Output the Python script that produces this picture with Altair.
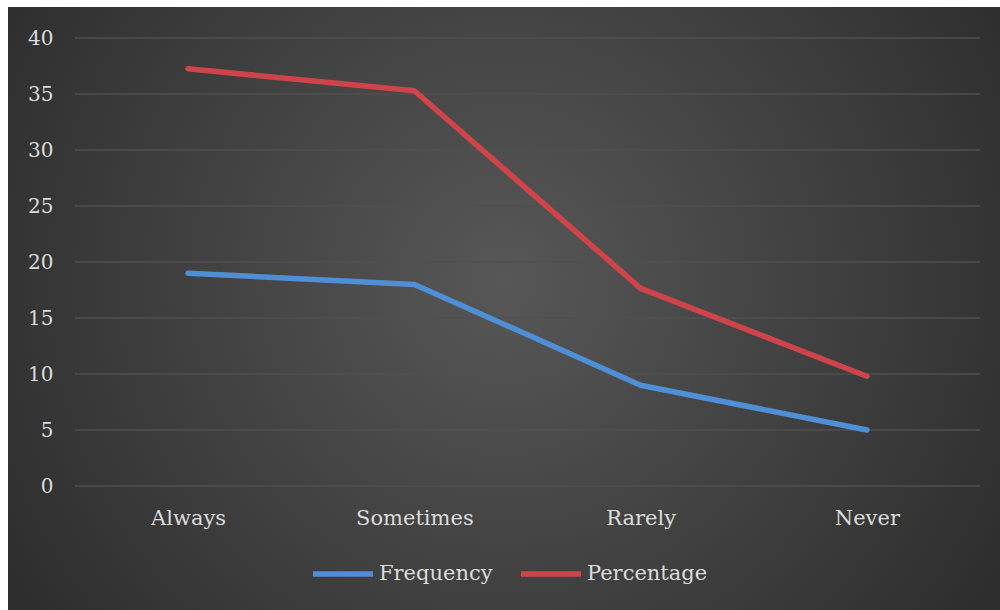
import altair as alt
import pandas as pd

# Survey responses per category
categories = ["Always", "Sometimes", "Rarely", "Never"]
frequency = [19, 18, 9, 5]
percentage = [37.25, 35.29, 17.65, 9.80]
series_names = ["Frequency", "Percentage"]
series_colors = ["#4f8fd6", "#cf444a"]
y_ticks = [0, 5, 10, 15, 20, 25, 30, 35, 40]

rows = []
for cat, f, p in zip(categories, frequency, percentage):
    rows.append({"category": cat, "series": "Frequency", "value": f})
    rows.append({"category": cat, "series": "Percentage", "value": p})
df = pd.DataFrame(rows)

FONT = "DejaVu Serif"
TEXT = "#dcdcdc"
W, H = 905, 448
PAD = {"left": 75, "top": 38, "right": 20, "bottom": 124}
y_scale = alt.Scale(domain=[0, 40], nice=False)
y_axis = alt.Axis(
    title=None, values=y_ticks, domain=False, ticks=False, grid=False, zindex=1,
    labelFont=FONT, labelFontSize=20, labelColor=TEXT, labelPadding=22,
)

# Dark panel with a soft radial highlight, drawn behind everything
panel = alt.Chart(pd.DataFrame({"k": [0]})).mark_rect(
    color=alt.RadialGradient(
        gradient="radial",
        stops=[
            alt.GradientStop(offset=0, color="#575757"),
            alt.GradientStop(offset=1, color="#222222"),
        ],
        x1=0.5, y1=0.47, r1=0,
        x2=0.5, y2=0.47, r2=0.75,
    )
).encode(
    x=alt.value(8 - PAD["left"]),
    x2=alt.value(1000 - PAD["left"]),
    y=alt.value(7 - PAD["top"]),
    y2=alt.value(610 - PAD["top"]),
)

# Horizontal gridlines, kept below the series lines
grid = alt.Chart(pd.DataFrame({"value": y_ticks})).mark_rule(
    color="#505050", strokeWidth=1.5
).encode(
    y=alt.Y("value:Q", scale=y_scale, axis=y_axis),
    x=alt.value(0),
    x2=alt.value(W),
)

lines = alt.Chart(df).mark_line(strokeWidth=5.5, strokeCap="round", strokeJoin="round").encode(
    x=alt.X(
        "category:N",
        sort=categories,
        scale=alt.Scale(type="point", padding=0.5),
        axis=alt.Axis(
            title=None, domain=False, ticks=False, grid=False, labelAngle=0, zindex=1,
            labelFont=FONT, labelFontSize=21, labelColor=TEXT, labelPadding=21,
        ),
    ),
    y=alt.Y("value:Q", scale=y_scale, axis=y_axis),
    color=alt.Color(
        "series:N",
        scale=alt.Scale(domain=series_names, range=series_colors),
        legend=alt.Legend(
            title=None, orient="none", direction="horizontal",
            legendX=235, legendY=503,
            symbolType="stroke", symbolSize=3600, symbolStrokeWidth=5.5,
            labelFont=FONT, labelFontSize=21, labelColor=TEXT,
            labelOffset=3, columnPadding=17, padding=0,
        ),
    ),
)

chart = alt.layer(panel, grid, lines).properties(
    width=W, height=H,
    background="#ffffff",
    padding=PAD,
    autosize=alt.AutoSizeParams(type="none"),
).configure_view(stroke=None)

chart.save("out.html", embed_options={"renderer": "svg", "actions": False})
